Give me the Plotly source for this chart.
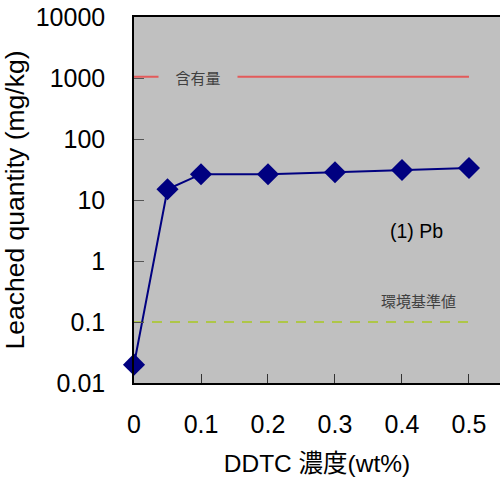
import plotly.graph_objects as go

# DDTC concentration (wt%) and leached Pb (mg/kg)
ddtc_conc = [0, 0.05, 0.1, 0.2, 0.3, 0.4, 0.5]
leached_pb = [0.02, 15, 26.5, 26.5, 28.5, 31, 33.5]

# reference levels
content_level = 1050      # 含有量
env_standard = 0.1        # 環境基準値
ref_span = [0, 0.5]

x_ticks = [0, 0.1, 0.2, 0.3, 0.4, 0.5]
x_tick_text = ["0", "0.1", "0.2", "0.3", "0.4", "0.5"]
y_ticks = [0.01, 0.1, 1, 10, 100, 1000, 10000]
y_tick_text = ["0.01", "0.1", "1", "10", "100", "1000", "10000"]

jp_font = "Noto Sans CJK JP"
num_font = "Liberation Sans, Noto Sans CJK JP"

fig = go.Figure()

# content level (red) and environmental standard (dashed green)
fig.add_trace(go.Scatter(
    x=ref_span, y=[content_level] * 2, mode="lines",
    line=dict(color="#e35a5a", width=2), hoverinfo="skip", showlegend=False))
fig.add_trace(go.Scatter(
    x=ref_span, y=[env_standard] * 2, mode="lines",
    line=dict(color="#a8c820", width=1.3, dash="10px,8px"),
    hoverinfo="skip", showlegend=False))

# leached quantity series
fig.add_trace(go.Scatter(
    x=ddtc_conc, y=leached_pb, mode="lines+markers",
    line=dict(color="#000080", width=2),
    marker=dict(symbol="diamond", size=17, color="#000080"),
    cliponaxis=False, showlegend=False))

fig.add_annotation(
    x=0.095, y=3.02, xref="x", yref="y", text="含有量", showarrow=False,
    font=dict(family=jp_font, size=15, color="#404040"),
    bgcolor="#c0c0c0", borderpad=0, xanchor="center", yanchor="middle",
    width=78, height=20)
fig.add_annotation(
    x=0.425, y=-0.655, xref="x", yref="y", text="環境基準値", showarrow=False,
    font=dict(family=jp_font, size=15, color="#404040"),
    xanchor="center", yanchor="middle")
fig.add_annotation(
    x=0.422, y=0.49, xref="x", yref="y", text="(1) Pb", showarrow=False,
    font=dict(family=num_font, size=19.5, color="#000000"),
    xanchor="center", yanchor="middle")

fig.update_layout(
    width=500, height=481,
    margin=dict(l=134, r=0, t=17, b=98),
    paper_bgcolor="white", plot_bgcolor="#c0c0c0",
    font=dict(family=num_font, color="#000000"),
    xaxis=dict(
        range=[0, 0.5463], tickvals=x_ticks, ticktext=x_tick_text,
        ticks="inside", ticklen=9, tickcolor="#333333", tickwidth=1,
        showgrid=False, zeroline=False,
        showline=True, linecolor="#000000", linewidth=1.5, mirror=True,
        tickfont=dict(family=num_font, size=25), ticklabelstandoff=18,
        title=dict(text="DDTC 濃度(wt%)", font=dict(family=num_font, size=24.5),
                   standoff=18),
    ),
    yaxis=dict(
        type="log", range=[-2, 4], tickvals=y_ticks, ticktext=y_tick_text,
        ticks="inside", ticklen=10, tickcolor="#555555", tickwidth=1,
        showgrid=False, zeroline=False,
        showline=True, linecolor="#000000", linewidth=1.5,
        tickfont=dict(family=num_font, size=25), ticklabelstandoff=22,
        title=dict(text="Leached quantity (mg/kg)",
                   font=dict(family=num_font, size=26.5), standoff=3),
    ),
)

fig.write_html("out.html")
